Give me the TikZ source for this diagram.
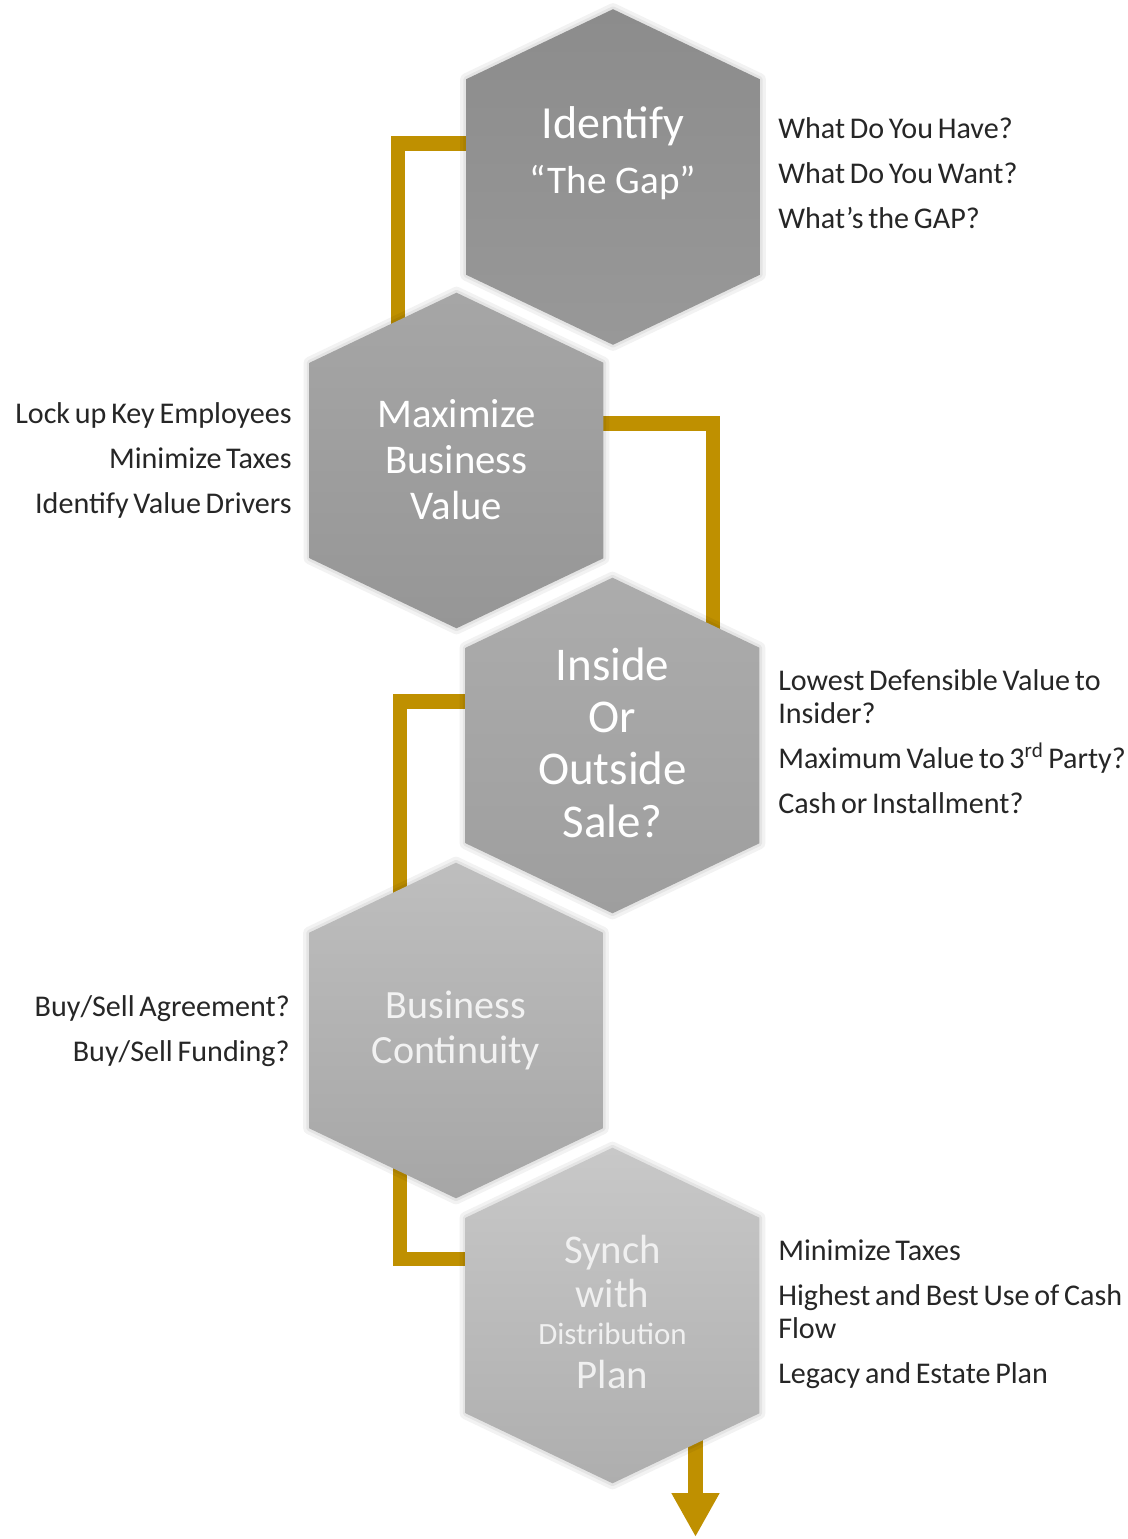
\documentclass[tikz,border=0pt]{standalone}
\usepackage{fontspec}
\setmainfont{Carlito}
\newfontfamily\notefont{Carlito}[WordSpace=0.7]
\usetikzlibrary{positioning,arrows.meta,calc,backgrounds}
\definecolor{gapGold}{RGB}{191,144,0}
\definecolor{noteInk}{RGB}{38,38,38}
\definecolor{hexA}{RGB}{140,140,140}
\definecolor{hexAb}{RGB}{152,152,152}
\definecolor{hexB}{RGB}{166,166,166}
\definecolor{hexBb}{RGB}{150,150,150}
\definecolor{hexC}{RGB}{172,172,172}
\definecolor{hexCb}{RGB}{158,158,158}
\definecolor{hexD}{RGB}{190,190,190}
\definecolor{hexDb}{RGB}{166,166,166}
\definecolor{hexE}{RGB}{200,200,200}
\definecolor{hexEb}{RGB}{174,174,174}

\begin{document}
\begin{tikzpicture}[
    x=0.025cm, y=0.025cm,
    hexcell/.style={rectangle, inner sep=0pt, minimum width=7.325cm, minimum height=4.875cm},
    hexbody/.style 2 args={top color=#1, bottom color=#2, draw=none,
      preaction={draw=black, draw opacity=0.05, line width=0.3cm, line join=round},
      preaction={draw=black, draw opacity=0.06, line width=0.14cm, line join=round}},
    hexlabel/.style={align=center, text=white, inner sep=0pt, anchor=base},
    note right/.style={align=left, anchor=base west, text=noteInk, inner sep=0pt,
      font=\notefont\fontsize{21.4}{22.8}\selectfont},
    note left/.style={align=right, anchor=base east, text=noteInk, inner sep=0pt,
      font=\notefont\fontsize{21.4}{22.8}\selectfont},
    link/.style={draw=gapGold, line width=0.37cm}
]
  \useasboundingbox (0,0) rectangle (1128,-1539);

  % the five steps
  \node[hexcell] (idf) at (613,-177) {};
  \node[hexcell] (mbv) at (456.5,-460.5) {};
  \node[hexcell] (ist) at (612.5,-745.5) {};
  \node[hexcell] (bc)  at (456,-1030.5) {};
  \node[hexcell] (sdp) at (612.5,-1315.5) {};
  \coordinate (tip) at (695.5,-1537);

  \foreach \n/\ca/\cb in {idf/hexA/hexAb, mbv/hexB/hexBb, ist/hexC/hexCb, bc/hexD/hexDb, sdp/hexE/hexEb}
    \path[hexbody={\ca}{\cb}] (\n.north west) -- ($(\n.north)+(0,70)$) -- (\n.north east)
      -- (\n.south east) -- ($(\n.south)+(0,-70)$) -- (\n.south west) -- cycle;

  % labels sit on the baseline of their last line
  \node[hexlabel, font=\fontsize{27.8}{39.1}\selectfont] (idf-t) at (613,-193)
    {{\fontsize{32.7}{39.1}\selectfont Identify}\\ “The Gap”};
  \node[hexlabel, font=\fontsize{29}{32.7}\selectfont] (mbv-t) at (456.5,-519)
    {Maximize\\ Business\\ Value};
  \node[hexlabel, font=\fontsize{33.4}{37.2}\selectfont] (ist-t) at (612.5,-837)
    {Inside\\ Or\\ Outside\\ Sale?};
  \node[hexlabel, text=white!95!black, font=\fontsize{28.5}{32}\selectfont] (bc-t) at (456,-1063)
    {Business\\ Continuity};
  \node[hexlabel, text=white!94!black, font=\fontsize{29}{31.3}\selectfont] (sdp-t) at (612.5,-1388)
    {Synch\\ with\\[-4.3pt] {\fontsize{22}{26}\selectfont Distribution}\\[-0.7pt] Plan};

  % side notes
  \node[note right] (idf-n) at (778,-228)
    {What Do You Have?\\[9.2pt] What Do You Want?\\[9.2pt] What’s the GAP?};
  \node[note left] (mbv-n) at (292,-513)
    {Lock up Key Employees\\[9.2pt] Minimize Taxes\\[9.2pt] Identify Value Drivers};
  \node[note right] (ist-n) at (778,-813)
    {Lowest Defensible Value to\\ Insider?\\[9.2pt] Maximum Value to 3\textsuperscript{rd} Party?\\[9.2pt] Cash or Installment?};
  \node[note left] (bc-n) at (290,-1061)
    {Buy/Sell Agreement?\\[9.2pt] Buy/Sell Funding?};
  \node[note right] (sdp-n) at (778,-1383)
    {Minimize Taxes\\[9.2pt] Highest and Best Use of Cash\\ Flow\\[9.2pt] Legacy and Estate Plan};

  % gold path behind the hexagons
  \begin{scope}[on background layer]
    \draw[link] ($(idf.center)+(0,33.5)$) -| ($(mbv.north)+(-58.5,0)$);
    \draw[link] ($(mbv.center)+(0,37)$) -| ($(ist.north)+(100.5,0)$);
    \draw[link] ($(ist.center)+(0,44)$) -| ($(bc.north)+(-56,0)$);
    \draw[link] ($(bc.center)+(-56,0)$) |- ($(sdp.center)+(0,56.5)$);
    \draw[link, -{Triangle[width=1.125cm, length=1.1cm]}] ($(sdp.center)+(83,0)$) -- (tip);
  \end{scope}
\end{tikzpicture}
\end{document}
